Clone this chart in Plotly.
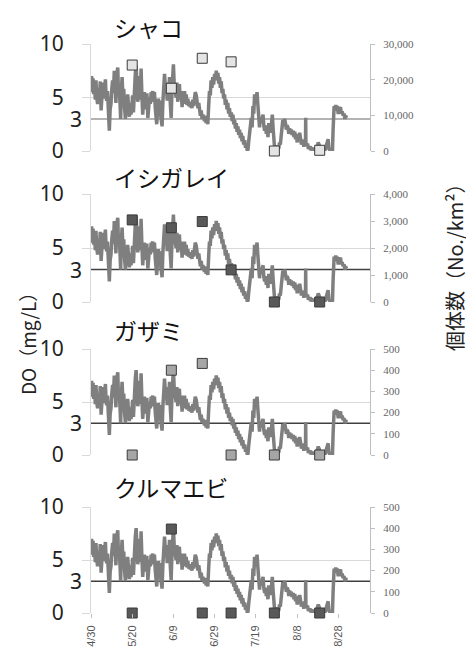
import pandas as pd
import plotly.graph_objects as go

# ---------------- data ----------------
start_date = "2013-04-30"
do_day = [0.0, 0.3, 0.7, 1.0, 1.3, 1.7, 2.1, 2.4, 2.8, 3.2, 3.6, 4.1, 4.5, 4.9, 5.3, 5.7, 6.1, 6.5,
          7.0, 7.3, 7.6, 8.0, 8.4, 8.9, 9.3, 9.7, 10.1, 10.5, 10.9, 11.3, 11.7, 12.1, 12.5, 13.0,
          13.3, 13.7, 14.1, 14.4, 14.7, 15.1, 15.5, 15.9, 16.3, 16.7, 17.1, 17.4, 17.8, 18.2, 18.6,
          19.0, 19.4, 19.8, 20.2, 20.6, 21.0, 21.5, 21.9, 22.3, 22.7, 23.2, 23.6, 24.0, 24.3, 24.7,
          25.1, 25.5, 25.9, 26.3, 26.7, 27.1, 27.6, 28.0, 28.4, 28.8, 29.2, 29.6, 30.0, 30.4, 30.8,
          31.2, 31.6, 31.9, 32.3, 32.7, 33.1, 33.5, 33.9, 34.2, 34.5, 34.9, 35.3, 35.7, 36.1, 36.5,
          37.0, 37.4, 37.8, 38.1, 38.5, 38.9, 39.3, 39.6, 40.0, 40.4, 40.8, 41.3, 41.7, 42.1, 42.5,
          42.9, 43.3, 43.8, 44.2, 44.6, 45.0, 45.4, 45.8, 46.2, 46.6, 47.0, 47.4, 47.8, 48.2, 48.6,
          49.0, 49.4, 49.8, 50.2, 50.6, 51.1, 51.5, 51.9, 52.3, 52.7, 53.1, 53.5, 53.9, 54.3, 54.7,
          55.1, 55.5, 55.9, 56.3, 56.7, 57.1, 57.5, 57.9, 58.3, 58.7, 59.1, 59.5, 60.0, 60.4, 60.8,
          61.2, 61.6, 62.0, 62.4, 62.8, 63.2, 63.6, 64.0, 64.4, 64.8, 65.2, 65.6, 66.0, 66.4, 66.8,
          67.2, 67.6, 68.1, 68.5, 68.9, 69.3, 69.7, 70.1, 70.5, 70.9, 71.3, 71.7, 72.1, 72.5, 72.9,
          73.3, 73.7, 74.1, 74.6, 75.0, 75.4, 75.8, 76.2, 76.6, 77.0, 77.4, 77.8, 78.2, 78.6, 79.0,
          79.4, 79.8, 80.2, 80.6, 81.0, 81.4, 81.8, 82.2, 82.6, 83.0, 83.5, 83.9, 84.3, 84.7, 85.1,
          85.5, 85.9, 86.3, 86.7, 87.1, 87.5, 88.0, 88.4, 88.8, 89.1, 89.5, 89.9, 90.3, 90.7, 91.1,
          91.5, 91.9, 92.3, 92.7, 93.1, 93.5, 94.0, 94.4, 94.8, 95.2, 95.6, 96.0, 96.4, 96.8, 97.2,
          97.6, 98.1, 98.5, 98.9, 99.3, 99.7, 100.1, 100.5, 100.9, 101.3, 101.7, 102.1, 102.5, 102.9,
          103.3, 103.7, 104.1, 104.2, 104.3, 104.7, 105.1, 105.5, 105.9, 106.2, 106.6, 107.0, 107.4,
          107.8, 108.2, 108.6, 109.0, 109.4, 109.8, 110.3, 110.7, 111.1, 111.5, 111.8, 112.2, 112.6,
          113.0, 113.5, 113.9, 114.3, 114.7, 115.1, 115.5, 115.9, 116.3, 116.7, 117.2, 117.5, 117.8,
          118.0, 118.4, 118.8, 119.1, 119.5, 119.9, 120.4, 120.8, 121.1, 121.5, 121.9, 122.4, 122.8,
          123.2, 123.6, 124.0]
do_val = [5.6, 7.0, 5.5, 6.8, 5.3, 6.2, 4.8, 6.6, 5.0, 4.4, 5.6, 5.0, 6.5, 3.8, 5.0, 6.4, 4.9, 6.2,
          6.7, 5.2, 4.7, 5.6, 3.4, 1.9, 3.9, 4.4, 5.8, 6.6, 5.4, 7.5, 6.0, 4.5, 7.2, 7.8,
          5.5, 6.0, 4.4, 3.0, 5.6, 6.9, 5.0, 5.8, 4.0, 3.0, 4.6, 3.6, 5.3, 4.2, 3.2,
          4.5, 3.4, 4.0, 5.2, 3.6, 6.2, 7.2, 8.0, 6.0, 4.6, 5.8, 7.0, 4.8, 7.7, 5.3,
          3.4, 4.6, 5.5, 3.9, 4.7, 5.4, 3.1, 4.2, 5.0, 4.4, 5.5, 5.3, 5.6, 4.6, 5.5,
          4.0, 2.8, 2.5, 3.8, 4.9, 4.2, 4.7, 3.2, 2.6, 2.3, 4.6, 6.5, 7.2, 5.8, 6.4,
          4.7, 6.2, 5.6, 6.9, 4.4, 3.1, 5.6, 7.0, 8.1, 6.2, 5.4, 5.0, 6.4, 4.6, 5.9,
          6.25, 4.8, 5.6, 4.1, 5.2, 4.4, 5.6, 4.5, 5.3, 4.3, 4.9, 4.2, 4.6, 4.1, 4.4,
          4.0, 4.8, 4.2, 5.0, 5.5, 5.2, 4.4, 4.0, 4.5, 3.75, 3.3, 3.8, 3.0, 3.4, 2.9,
          2.8, 3.3, 2.6, 3.0, 2.5, 4.2, 5.6, 5.2, 6.6, 5.9, 6.9, 6.2, 7.2, 6.6, 7.5,
          6.7, 7.3, 6.3, 6.9, 5.9, 6.5, 5.4, 5.8, 4.9, 5.3, 4.3, 4.8, 3.9, 4.5, 3.5,
          4.0, 3.2, 3.6, 2.8, 3.4, 2.5, 2.9, 2.1, 2.6, 1.8, 2.3, 1.5, 2.0, 1.2, 1.7,
          0.9, 1.4, 0.6, 1.0, 0.3, 0.7, 0.1, 0.15, 1.0, 1.8, 2.5, 3.1, 2.2, 4.2, 3.5,
          5.3, 4.4, 5.0, 5.5, 4.3, 3.0, 2.2, 3.1, 2.6, 3.0, 3.4, 2.3, 1.9, 2.4, 1.6,
          2.0, 1.3, 2.6, 2.2, 1.7, 2.3, 3.4, 2.1, 1.0, 0.3, 0.5, 0.2, 0.15, 0.4, 0.2,
          0.8, 0.6, 1.4, 2.4, 2.9, 2.5, 3.0, 2.6, 2.0, 2.4, 2.2, 1.6, 2.1, 1.8, 2.0,
          1.5, 1.9, 1.3, 1.8, 1.1, 1.4, 0.8, 1.6, 1.0, 1.7, 1.2, 0.6, 1.0, 0.9,
          0.4, 0.8, 0.6, 3.1, 0.8, 0.5, 0.7, 0.2, 0.4, 0.3, 0.1, 0.2, 0.05,
          0.15, 0.1, 0.3, 0.1, 0.15, 0.5, 0.8, 0.6, 0.3, 0.2, 0.15, 0.05, 0.0,
          0.0, 0.0, 0.3, 0.7, 1.1, 1.1, 0.2, 0.0, 0.0, 0.0, 0.0, 2.0, 4.0,
          4.2, 3.8, 4.3, 3.9, 4.2, 3.6, 3.6, 4.0, 4.1, 3.5, 3.7, 3.3, 3.5,
          3.0, 3.3, 3.1]

survey_dates = ["2013-05-20", "2013-06-08", "2013-06-23", "2013-07-07", "2013-07-28", "2013-08-19"]
species = ["シャコ", "イシガレイ", "ガザミ", "クルマエビ"]
count_shako = [24100, 17600, 26000, 25000, 0, 200]
count_ishigarei = [3040, 2750, 2980, 1190, 0, 0]
count_gazami = [0, 400, 432, 0, 0, 0]
count_kuruma = [0, 396, 0, 0, 0, 0]
right_max = [30000, 4000, 500, 500]
right_dtick = [10000, 1000, 100, 100]
x_tick_dates = ["2013-04-30", "2013-05-20", "2013-06-09", "2013-06-29", "2013-07-19", "2013-08-08", "2013-08-28"]
x_tick_text = ["4/30", "5/20", "6/9", "6/29", "7/19", "8/8", "8/28"]
threshold = 3

counts = [count_shako, count_ishigarei, count_gazami, count_kuruma]
marker_fill = ["#e4e4e4", "#595959", "#a6a6a6", "#595959"]
line3_color = ["#9a9a9a", "#404040", "#404040", "#404040"]

do_dates = pd.Timestamp(start_date) + pd.to_timedelta(do_day, unit="D")

# ---------------- layout geometry (px, in screen coords of the reference) ----------------
W, H = 474, 651
OFF = 8  # the page body adds an 8px margin around the figure
x0, x1 = 91, 370
panels = [(44, 151), (194, 302), (349, 455), (507, 613)]
title_y = [27, 177, 330, 487]

def px(v):
    return (v - OFF) / W

def py(v):
    return 1 - (v - OFF) / H

fig = go.Figure()
layout = dict(
    width=W, height=H, margin=dict(l=0, r=0, t=0, b=0, pad=0, autoexpand=False),
    paper_bgcolor="white", plot_bgcolor="white", showlegend=False,
    font=dict(family="Noto Sans CJK JP, Noto Sans, sans-serif", color="#222222"),
)
annotations = []
shapes = []
xr = ["2013-04-30", "2013-09-12 10:00"]

for i in range(4):
    k = i + 1
    xa = "x" if k == 1 else f"x{k}"
    ya = f"y{2*i+1}" if i > 0 else "y"
    yb = f"y{2*i+2}"
    top, bot = panels[i]
    dom_y = [py(bot), py(top)]
    fig.add_trace(go.Scatter(x=do_dates, y=do_val, mode="lines", xaxis=xa, yaxis=ya,
                             line=dict(color="#7f7f7f", width=3.5), hoverinfo="skip"))
    fig.add_trace(go.Scatter(x=survey_dates, y=counts[i], mode="markers", xaxis=xa, yaxis=yb,
                             cliponaxis=False,
                             marker=dict(symbol="square", size=10, color=marker_fill[i],
                                         line=dict(color="#3a3a3a", width=1))))
    xname = "xaxis" if k == 1 else f"xaxis{k}"
    yname = "yaxis" if i == 0 else f"yaxis{2*i+1}"
    y2name = f"yaxis{2*i+2}"
    xa_cfg = dict(domain=[px(x0), px(x1)], anchor=ya, type="date", range=xr,
                  showgrid=False, zeroline=False, showline=False, automargin=False,
                  tickvals=x_tick_dates, ticktext=x_tick_text)
    if i == 3:
        xa_cfg.update(showticklabels=True, tickangle=-90, ticks="outside", ticklen=4,
                      tickcolor="#bfbfbf", tickfont=dict(size=11, color="#555555",
                                                         family="Liberation Sans Narrow, Liberation Sans, sans-serif"),
                      ticklabelstandoff=3)
    else:
        xa_cfg.update(showticklabels=False, ticks="")
    layout[xname] = xa_cfg
    layout[yname] = dict(domain=dom_y, anchor=xa, range=[0, 10], tickvals=[0, 5, 10],
                         ticktext=["0", "5", "10"], showgrid=True, gridcolor="#d9d9d9",
                         gridwidth=1, zeroline=False, showline=True, linecolor="#d9d9d9",
                         ticks="outside", ticklen=8, tickcolor="#d9d9d9", automargin=False,
                         tickfont=dict(size=21, color="#222222", family="Noto Sans, sans-serif"),
                         ticklabelstandoff=14, fixedrange=True)
    layout[y2name] = dict(domain=dom_y, anchor=xa, overlaying=ya, side="right",
                          range=[0, right_max[i]], dtick=right_dtick[i], tickformat=",",
                          showgrid=False, zeroline=False, showline=True, linecolor="#bfbfbf",
                          ticks="outside", ticklen=4, tickcolor="#bfbfbf", automargin=False,
                          tickfont=dict(size=11, color="#666666", family="Liberation Serif, serif"),
                          ticklabelstandoff=6)
    shapes.append(dict(type="line", xref=f"{xa} domain", yref=ya, x0=0, x1=1,
                       y0=threshold, y1=threshold, line=dict(color=line3_color[i], width=1.5),
                       layer="below"))
    annotations.append(dict(text=str(threshold), x=px(84), y=threshold, xref="paper", yref=ya,
                            xanchor="right", yanchor="middle", showarrow=False,
                            font=dict(size=21, color="#222222", family="Noto Sans, sans-serif")))
    annotations.append(dict(text=species[i], x=px(112), y=py(title_y[i]), xref="paper", yref="paper",
                            xanchor="left", yanchor="middle", showarrow=False,
                            font=dict(size=23, color="#111111",
                                      family="Noto Sans CJK JP, sans-serif")))

annotations.append(dict(text="DO（mg/L）", x=px(28), y=py(339), xref="paper", yref="paper",
                        textangle=-90, showarrow=False, xanchor="center", yanchor="middle",
                        font=dict(size=19, color="#222222", family="Noto Sans CJK JP, sans-serif")))
annotations.append(dict(text="個体数（No./km²）", x=px(455), y=py(262), xref="paper",
                        yref="paper", textangle=-90, showarrow=False, xanchor="center",
                        yanchor="middle",
                        font=dict(size=20, color="#222222", family="Noto Sans CJK JP, sans-serif")))

layout["annotations"] = annotations
layout["shapes"] = shapes
fig.update_layout(**layout)
fig.write_html("out.html")
